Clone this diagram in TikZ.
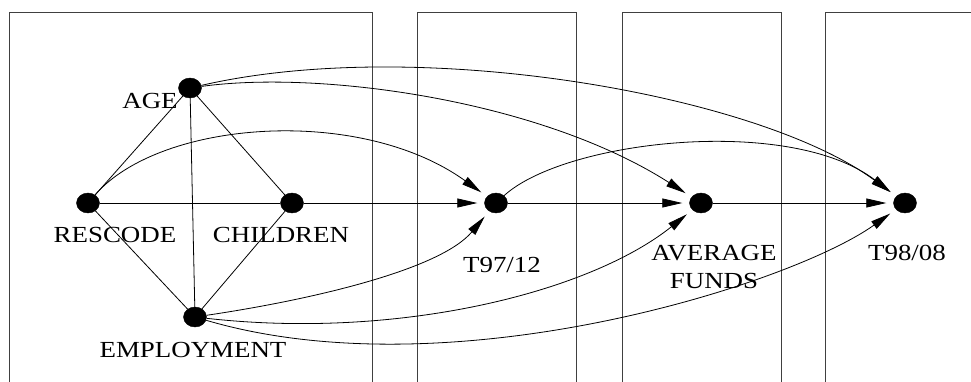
\documentclass[tikz,border=0pt]{standalone}
\usepackage{fontspec}
\newfontfamily\labfont[FakeStretch=1.17]{Liberation Serif}
\usetikzlibrary{shapes.geometric,arrows.meta}
\begin{document}
\begin{tikzpicture}[x=1pt,y=-1pt,
  vert/.style={ellipse,fill=black,draw=black,minimum width=23pt,minimum height=20pt,inner sep=0pt},
  lab/.style={font=\labfont\fontsize{23}{28}\selectfont,inner sep=0pt,anchor=base},
  panel/.style={draw=black!75,line width=0.8pt},
  edge/.style={draw=black,line width=0.8pt},
  arr/.style={edge,-{Triangle[length=20pt,width=9pt]},shorten >=7pt}]
\useasboundingbox (0,0) rectangle (971,381);
% panels
\draw[panel] (9,390) -- (9,12) -- (372,12) -- (372,390);
\draw[panel] (417,390) -- (417,12) -- (576,12) -- (576,390);
\draw[panel] (622,390) -- (622,12) -- (781,12) -- (781,390);
\draw[panel] (825,390) -- (825,12) -- (975,12);
% vertices
\node[vert] (age) at (190,88) {};
\node[vert] (res) at (88,203) {};
\node[vert] (chi) at (292,203) {};
\node[vert] (emp) at (195,317) {};
\node[vert] (t97) at (496,203) {};
\node[vert] (avg) at (701,203) {};
\node[vert] (t98) at (905,203) {};
% labels
\node[lab] (agel) at (150,108) {AGE};
\node[lab] (resl) at (115,242) {RESCODE};
\node[lab] (chil) at (281,242) {CHILDREN};
\node[lab] (empl) at (193,357) {EMPLOYMENT};
\node[lab] (t97l) at (502,272) {T97/12};
\node[lab,align=center] (avgl) at (714,288) {AVERAGE\\FUNDS};
\node[lab] (t98l) at (907,260) {T98/08};
% undirected edges
\draw[edge] (age) -- (res);
\draw[edge] (age) -- (chi);
\draw[edge] (age) -- (emp);
\draw[edge] (res) -- (chi);
\draw[edge] (res) -- (emp);
\draw[edge] (chi) -- (emp);
% directed edges
\draw[arr] (chi) -- (t97);
\draw[arr] (t97) -- (avg);
\draw[arr] (avg) -- (t98);
\draw[arr] (res) .. controls (160,120) and (360,105) .. (t97);
\draw[arr] (emp) .. controls (310,300) and (440,270) .. (t97);
\draw[arr] (age) .. controls (320,70) and (540,100) .. (avg);
\draw[arr] (age) .. controls (420,35) and (760,95) .. (t98);
\draw[arr] (t97) .. controls (565,140) and (790,115) .. (t98);
\draw[arr] (emp) .. controls (400,340) and (590,292) .. (avg);
\draw[arr] (emp) .. controls (450,392) and (790,285) .. (t98);
\end{tikzpicture}
\end{document}
